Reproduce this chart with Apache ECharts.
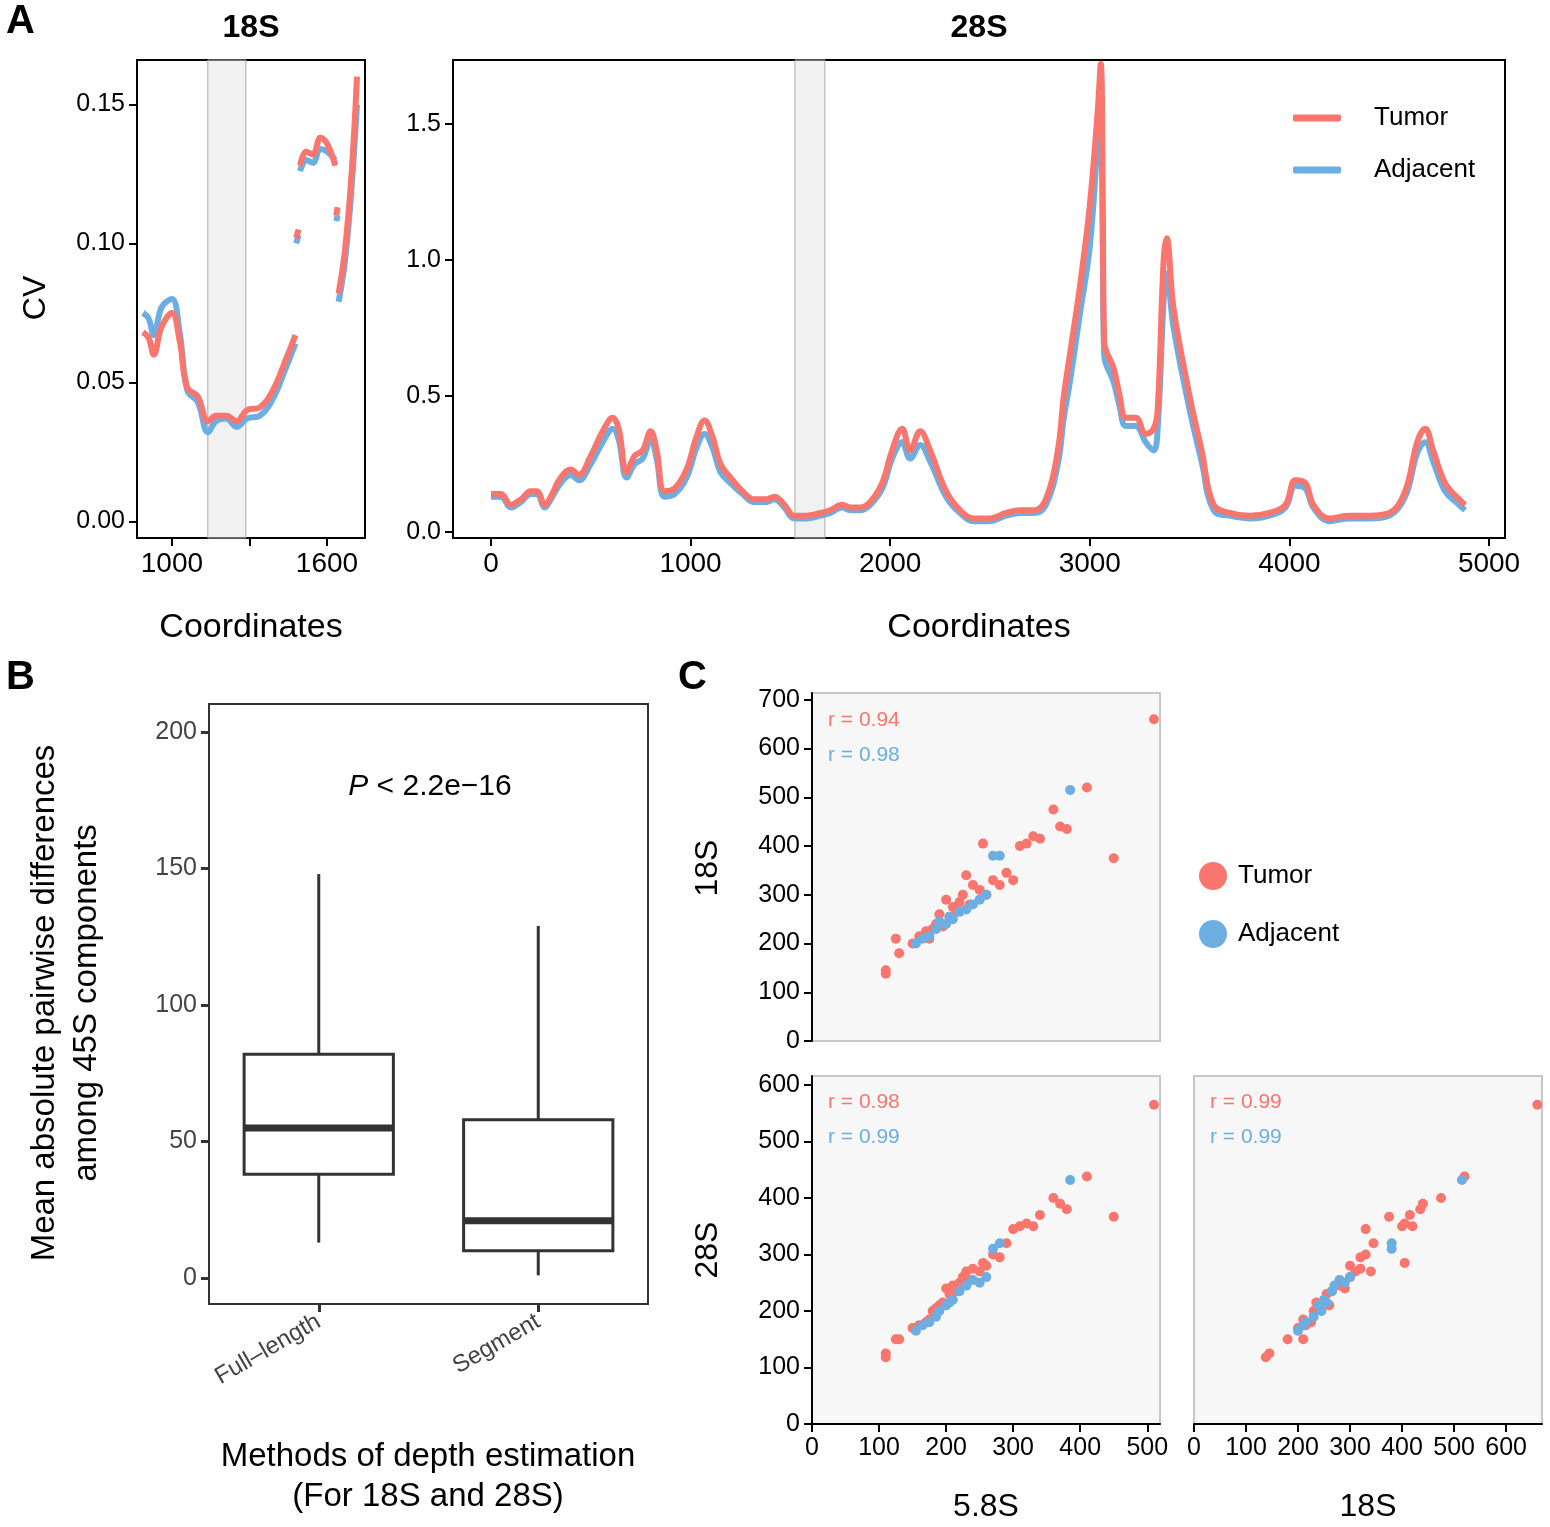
<!DOCTYPE html>
<html lang="en">
  <head>
    <meta charset="UTF-8" />
    <title>CV and depth</title>
    <style>
      body { margin: 0; background: #fff; }
      #main { width: 1550px; height: 1527px; }
    </style>
  </head>
  <body>
    <div id="main"></div>
    <script src="https://cdn.jsdelivr.net/npm/echarts@6/dist/echarts.min.js"></script>
    <script>
      // A: CV along 18S (gaps are null)
      const s18Tumor = [[888,.068],[910,.066],[930,.060],[960,.070],[1000,.075],[1030,.065],[1060,.048],[1100,.045],[1140,.036],[1170,.038],[1210,.038],[1250,.036],[1290,.040],[1340,.041],[1390,.047],[1440,.058],[1478,.067],[1479,null],
        [1481,.102],[1490,.105],[1493,null],[1496,.128],[1520,.133],[1545,.132],[1575,.138],[1600,.136],[1632,.128],[1634,null],[1636,.110],[1641,.113],[1643,null],
        [1645,.082],[1670,.098],[1695,.125],[1716,.160]];
      const s18Adj = [[888,.075],[910,.073],[930,.067],[960,.077],[1000,.080],[1030,.068],[1060,.047],[1100,.043],[1140,.032],[1170,.036],[1210,.037],[1250,.034],[1290,.037],[1340,.038],[1390,.044],[1440,.055],[1478,.064],[1479,null],
        [1481,.100],[1490,.103],[1493,null],[1496,.126],[1520,.130],[1545,.129],[1575,.134],[1600,.133],[1632,.130],[1634,null],[1636,.108],[1641,.110],[1643,null],
        [1645,.079],[1670,.094],[1695,.120],[1716,.150]];
      // A: CV along 28S
      const s28Tumor = [[0,.14],[50,.14],[100,.10],[150,.12],[200,.15],[230,.15],[270,.10],[300,.13],[350,.20],[400,.23],[440,.21],[500,.28],[560,.37],[610,.42],[640,.38],[680,.22],[720,.28],[760,.30],[800,.37],[830,.30],[870,.15],[920,.16],[980,.23],[1030,.35],[1070,.41],[1110,.35],[1150,.25],[1200,.20],[1260,.15],[1320,.12],[1380,.12],[1420,.13],[1470,.10],[1520,.06],[1580,.06],[1650,.07],[1700,.08],[1760,.10],[1800,.09],[1850,.09],[1900,.11],[1960,.18],[2010,.30],[2060,.38],[2100,.30],[2150,.37],[2200,.30],[2280,.15],[2350,.08],[2420,.05],[2500,.05],[2580,.07],[2650,.08],[2720,.08],[2780,.12],[2840,.30],[2870,.50],[2900,.65],[2950,.90],[3000,1.2],[3040,1.55],[3055,1.72],[3065,1.2],[3072,0.70],[3120,0.60],[3150,0.50],[3180,0.42],[3230,0.42],[3280,0.36],[3320,0.38],[3340,0.45],[3370,1.0],[3385,1.08],[3420,0.82],[3500,0.50],[3560,0.30],[3620,0.10],[3700,0.07],[3800,0.06],[3900,0.07],[3980,0.10],[4030,0.19],[4080,0.18],[4120,0.10],[4200,0.05],[4300,0.06],[4400,0.06],[4500,0.07],[4580,0.15],[4640,0.33],[4680,0.38],[4720,0.30],[4780,0.18],[4850,0.12],[4880,0.10]];
      const s28Adj = [[0,.13],[50,.13],[100,.09],[150,.11],[200,.14],[230,.14],[270,.09],[300,.12],[350,.18],[400,.21],[440,.19],[500,.25],[560,.33],[610,.38],[640,.34],[680,.20],[720,.25],[760,.27],[800,.34],[830,.27],[870,.13],[920,.14],[980,.20],[1030,.31],[1070,.36],[1110,.31],[1150,.22],[1200,.18],[1260,.14],[1320,.11],[1380,.11],[1420,.12],[1470,.09],[1520,.05],[1580,.05],[1650,.06],[1700,.07],[1760,.09],[1800,.08],[1850,.08],[1900,.10],[1960,.16],[2010,.27],[2060,.33],[2100,.27],[2150,.32],[2200,.26],[2280,.13],[2350,.07],[2420,.04],[2500,.04],[2580,.06],[2650,.07],[2720,.07],[2780,.10],[2840,.25],[2870,.42],[2900,.55],[2950,.80],[3000,1.05],[3040,1.45],[3055,1.65],[3065,1.05],[3072,0.65],[3120,0.55],[3150,0.46],[3180,0.39],[3230,0.39],[3280,0.33],[3320,0.30],[3340,0.38],[3370,0.85],[3385,0.95],[3420,0.75],[3500,0.45],[3560,0.26],[3620,0.08],[3700,0.06],[3800,0.05],[3900,0.06],[3980,0.09],[4030,0.17],[4080,0.16],[4120,0.09],[4200,0.04],[4300,0.05],[4400,0.05],[4500,0.06],[4580,0.13],[4640,0.29],[4680,0.33],[4720,0.26],[4780,0.15],[4850,0.10],[4880,0.08]];

      // B: boxplot [min, Q1, median, Q3, max]
      const methods = ["Full\u2013length", "Segment"];
      const boxStats = [[13, 38, 55, 82, 148], [1, 10, 21, 58, 129]];

      // C: per-sample depths
      const tumor58 = [110,110,125,130,150,160,170,175,180,185,190,195,200,205,210,215,220,225,230,235,240,250,255,260,270,280,290,300,310,320,330,340,360,370,380,410,450,510];
      const tumor18 = [145,138,210,180,200,215,225,210,230,240,260,235,290,255,275,265,285,300,340,280,320,310,405,300,330,320,345,330,400,405,420,415,475,440,435,520,375,660];
      const tumor28 = [125,118,150,150,170,175,180,185,200,205,210,215,240,230,245,235,250,260,270,255,275,270,285,280,300,295,320,345,350,355,350,370,400,390,380,438,367,565];
      const adj58 = [155,165,175,185,190,200,205,210,220,230,240,250,260,270,280,385];
      const adj18 = [200,210,215,230,245,240,255,250,265,270,280,290,300,380,380,515];
      const adj28 = [165,175,180,190,200,210,215,220,235,245,255,250,260,310,320,432];

      const RED = "#F8766D", BLUE = "#6DAEE2";
      const FONT = "Liberation Sans";
      const zip = (a, b) => a.map((v, i) => [v, b[i]]);
      const steps = (a, b, s) => { let r = []; for (let v = a; v <= b; v += s) r.push(v); return r; };

      function valAxis(gi, min, max, ticks, labels, fmt, size, hide) {
        return {
          type: "value", gridIndex: gi, min: min, max: max, show: !hide,
          axisLine: { show: true, onZero: false, lineStyle: { color: "#000", width: 2 } },
          axisTick: { show: true, customValues: ticks, length: 8, lineStyle: { color: "#000", width: 2 } },
          axisLabel: { show: labels.length > 0, customValues: labels, fontSize: size || 26, margin: 12, color: "#000", fontFamily: FONT,
            formatter: fmt || ((v) => String(v)) },
          splitLine: { show: false }
        };
      }

      let mchart = echarts.init(document.getElementById("main"));
      let gridA = { show: true, borderColor: "#000", borderWidth: 2, backgroundColor: "#fff" };
      let gridC = { show: true, borderColor: "#c8c8c8", borderWidth: 2, backgroundColor: "#f7f7f7" };
      let lineStyle = (c) => ({ type: "line", smooth: 0.4, showSymbol: false, connectNulls: false, lineStyle: { color: c, width: 6 }, itemStyle: { color: c } });

      // ggplot-style box: no whisker caps, thick median
      function renderBox(params, api) {
        let i = api.value(0);
        let lo = api.coord([i, api.value(1)]), q1 = api.coord([i, api.value(2)]), md = api.coord([i, api.value(3)]);
        let q3 = api.coord([i, api.value(4)]), hi = api.coord([i, api.value(5)]);
        let w = api.size([1, 0])[0] * 0.68, x = lo[0];
        let st = { stroke: "#333", lineWidth: 3, fill: "none" };
        return { type: "group", children: [
          { type: "line", shape: { x1: x, y1: hi[1], x2: x, y2: q3[1] }, style: st },
          { type: "line", shape: { x1: x, y1: q1[1], x2: x, y2: lo[1] }, style: st },
          { type: "rect", shape: { x: x - w / 2, y: q3[1], width: w, height: q1[1] - q3[1] }, style: { stroke: "#333", lineWidth: 3, fill: "#fff" } },
          { type: "line", shape: { x1: x - w / 2, y1: md[1], x2: x + w / 2, y2: md[1] }, style: { stroke: "#333", lineWidth: 7 } }
        ] };
      }

      let option = {
        animation: false,
        textStyle: { fontFamily: FONT },
        grid: [
          Object.assign({ left: 137, top: 60, width: 228, height: 478 }, gridA),
          Object.assign({ left: 453, top: 60, width: 1052, height: 478 }, gridA),
          Object.assign({ left: 209, top: 704, width: 439, height: 600 }, gridA, { borderColor: "#333" }),
          Object.assign({ left: 812, top: 693, width: 348, height: 348 }, gridC),
          Object.assign({ left: 812, top: 1076, width: 348, height: 348 }, gridC),
          Object.assign({ left: 1194, top: 1076, width: 348, height: 348 }, gridC)
        ],
        xAxis: [
          valAxis(0, 865, 1747, [1000, 1300, 1600], [1000, 1600], null, 28),
          valAxis(1, -190, 5080, steps(0, 5000, 1000), steps(0, 5000, 1000), null, 28),
          {
            type: "category", gridIndex: 2, data: methods,
            axisLine: { show: false, onZero: false }, splitLine: { show: false },
            axisTick: { show: true, alignWithLabel: true, length: 8, lineStyle: { color: "#333", width: 3 } },
            axisLabel: { rotate: 30, fontSize: 24, color: "#444", margin: 16, fontFamily: FONT }
          },
          valAxis(3, 0, 519, steps(0, 500, 100), [], null, 24, true),
          valAxis(4, 0, 519, steps(0, 500, 100), steps(0, 500, 100), null, 25),
          valAxis(5, 0, 669, steps(0, 600, 100), steps(0, 600, 100), null, 25)
        ],
        yAxis: [
          valAxis(0, -0.006, 0.166, [0, 0.05, 0.1, 0.15], [0, 0.05, 0.1, 0.15], (v) => v.toFixed(2), 25),
          valAxis(1, -0.022, 1.735, [0, 0.5, 1, 1.5], [0, 0.5, 1, 1.5], (v) => v.toFixed(1), 25),
          {
            type: "value", gridIndex: 2, min: -9.5, max: 210.3,
            axisLine: { show: false }, splitLine: { show: false },
            axisTick: { show: true, customValues: steps(0, 200, 50), length: 8, lineStyle: { color: "#333", width: 3 } },
            axisLabel: { customValues: steps(0, 200, 50), fontSize: 25, color: "#444", margin: 12, fontFamily: FONT }
          },
          valAxis(3, 0, 714, steps(0, 700, 100), steps(0, 700, 100), null, 25),
          valAxis(4, 0, 616, steps(0, 600, 100), steps(0, 600, 100), null, 25),
          valAxis(5, 0, 616, steps(0, 600, 100), [], null, 24, true)
        ],
        legend: [
          {
            data: ["Tumor", "Adjacent"], orient: "vertical", left: 1288, top: 100, itemGap: 26,
            icon: "roundRect", itemWidth: 48, itemHeight: 7, selectedMode: false,
            textStyle: { fontSize: 26, color: "#000", padding: [0, 0, 0, 28] }
          },
          {
            data: ["Tumor", "Adjacent"], orient: "vertical", left: 1194, top: 857, itemGap: 30,
            icon: "circle", itemWidth: 28, itemHeight: 28, selectedMode: false,
            textStyle: { fontSize: 26, color: "#000", padding: [0, 0, 0, 6] }
          }
        ],
        series: [
          Object.assign(lineStyle(BLUE), { name: "Adjacent", xAxisIndex: 0, yAxisIndex: 0, data: s18Adj,
            markArea: { silent: true, itemStyle: { color: "rgba(200,200,200,0.25)", borderColor: "#aaa", borderWidth: 1 }, data: [[{ xAxis: 1139 }, { xAxis: 1286 }]] } }),
          Object.assign(lineStyle(RED), { name: "Tumor", xAxisIndex: 0, yAxisIndex: 0, data: s18Tumor }),
          Object.assign(lineStyle(BLUE), { name: "Adjacent", xAxisIndex: 1, yAxisIndex: 1, data: s28Adj,
            markArea: { silent: true, itemStyle: { color: "rgba(200,200,200,0.25)", borderColor: "#aaa", borderWidth: 1 }, data: [[{ xAxis: 1523 }, { xAxis: 1673 }]] } }),
          Object.assign(lineStyle(RED), { name: "Tumor", xAxisIndex: 1, yAxisIndex: 1, data: s28Tumor }),
          {
            type: "custom", xAxisIndex: 2, yAxisIndex: 2, renderItem: renderBox,
            data: boxStats.map((b, i) => [i].concat(b)),
            encode: { x: 0, y: [1, 2, 3, 4, 5] },
            markLine: {
              silent: true, symbol: "none", label: { show: false }, z: -1,
              data: steps(0, 200, 25).map((v) => ({ yAxis: v, lineStyle: { color: "#ebebeb", type: "solid", width: v % 50 === 0 ? 3 : 1.5 } }))
                .concat(methods.map((m) => ({ xAxis: m, lineStyle: { color: "#ebebeb", type: "solid", width: 3 } })))
            }
          },
          { name: "Tumor", type: "scatter", xAxisIndex: 3, yAxisIndex: 3, data: zip(tumor58, tumor18), symbolSize: 10, itemStyle: { color: RED, opacity: 1 } },
          { name: "Adjacent", type: "scatter", xAxisIndex: 3, yAxisIndex: 3, data: zip(adj58, adj18), symbolSize: 10, itemStyle: { color: BLUE, opacity: 1 } },
          { name: "Tumor", type: "scatter", xAxisIndex: 4, yAxisIndex: 4, data: zip(tumor58, tumor28), symbolSize: 10, itemStyle: { color: RED, opacity: 1 } },
          { name: "Adjacent", type: "scatter", xAxisIndex: 4, yAxisIndex: 4, data: zip(adj58, adj28), symbolSize: 10, itemStyle: { color: BLUE, opacity: 1 } },
          { name: "Tumor", type: "scatter", xAxisIndex: 5, yAxisIndex: 5, data: zip(tumor18, tumor28), symbolSize: 10, itemStyle: { color: RED, opacity: 1 } },
          { name: "Adjacent", type: "scatter", xAxisIndex: 5, yAxisIndex: 5, data: zip(adj18, adj28), symbolSize: 10, itemStyle: { color: BLUE, opacity: 1 } }
        ],
        graphic: [
          { type: "text", left: 6, top: 2, style: { text: "A", fontSize: 40, fontWeight: "bold", fill: "#000" } },
          { type: "text", left: 6, top: 658, style: { text: "B", fontSize: 40, fontWeight: "bold", fill: "#000" } },
          { type: "text", left: 678, top: 658, style: { text: "C", fontSize: 40, fontWeight: "bold", fill: "#000" } },
          { type: "text", x: 251, y: 28, style: { text: "18S", fontSize: 32, fontWeight: "bold", align: "center", verticalAlign: "middle", fill: "#000" } },
          { type: "text", x: 979, y: 28, style: { text: "28S", fontSize: 32, fontWeight: "bold", align: "center", verticalAlign: "middle", fill: "#000" } },
          { type: "text", x: 251, y: 628, style: { text: "Coordinates", fontSize: 34, align: "center", verticalAlign: "middle", fill: "#000" } },
          { type: "text", x: 979, y: 628, style: { text: "Coordinates", fontSize: 34, align: "center", verticalAlign: "middle", fill: "#000" } },
          { type: "text", x: 36, y: 298, rotation: Math.PI / 2, style: { text: "CV", fontSize: 32, align: "center", verticalAlign: "middle", fill: "#000" } },
          { type: "text", x: 66, y: 1003, rotation: Math.PI / 2, style: { text: "Mean absolute pairwise differences\namong 45S components", fontSize: 33, lineHeight: 42, align: "center", verticalAlign: "middle", fill: "#000" } },
          { type: "text", x: 428, y: 1477, style: { text: "Methods of depth estimation\n(For 18S and 28S)", fontSize: 33, lineHeight: 40, align: "center", verticalAlign: "middle", fill: "#000" } },
          { type: "text", x: 430, y: 787, style: { rich: { i: { fontStyle: "italic", fontSize: 30 }, n: { fontSize: 30 } }, text: "{i|P}{n| < 2.2e\u221216}", align: "center", verticalAlign: "middle", fill: "#000" } },
          { type: "text", x: 708, y: 868, rotation: Math.PI / 2, style: { text: "18S", fontSize: 32, align: "center", verticalAlign: "middle", fill: "#000" } },
          { type: "text", x: 708, y: 1250, rotation: Math.PI / 2, style: { text: "28S", fontSize: 32, align: "center", verticalAlign: "middle", fill: "#000" } },
          { type: "text", x: 986, y: 1507, style: { text: "5.8S", fontSize: 32, align: "center", verticalAlign: "middle", fill: "#000" } },
          { type: "text", x: 1368, y: 1507, style: { text: "18S", fontSize: 32, align: "center", verticalAlign: "middle", fill: "#000" } },
          { type: "text", left: 828, top: 710, style: { text: "r = 0.94", fontSize: 21, fill: RED } },
          { type: "text", left: 828, top: 745, style: { text: "r = 0.98", fontSize: 21, fill: BLUE } },
          { type: "text", left: 828, top: 1092, style: { text: "r = 0.98", fontSize: 21, fill: RED } },
          { type: "text", left: 828, top: 1127, style: { text: "r = 0.99", fontSize: 21, fill: BLUE } },
          { type: "text", left: 1210, top: 1092, style: { text: "r = 0.99", fontSize: 21, fill: RED } },
          { type: "text", left: 1210, top: 1127, style: { text: "r = 0.99", fontSize: 21, fill: BLUE } }
        ]
      };
      mchart.setOption(option);
    </script>
  </body>
</html>
